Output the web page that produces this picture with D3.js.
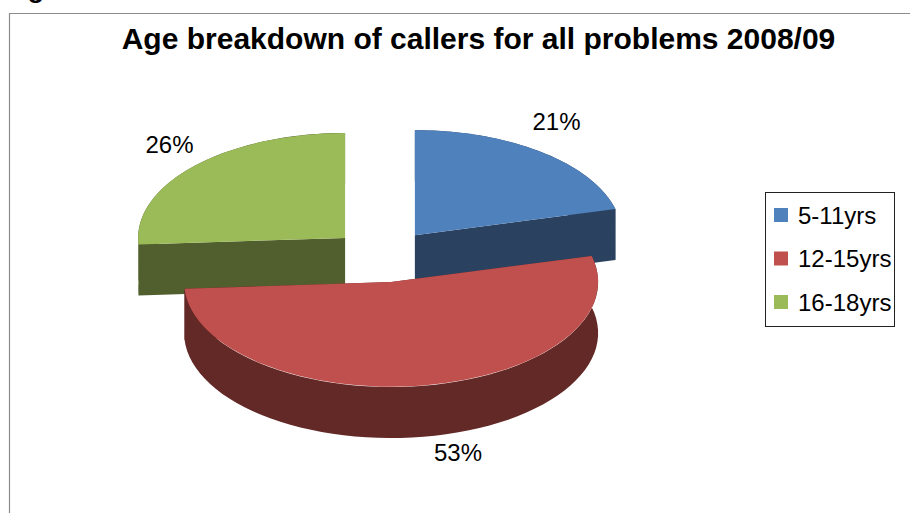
<!DOCTYPE html>
<html><head><meta charset="utf-8">
<script src="https://cdn.jsdelivr.net/npm/d3@7"></script>
<style>html,body{margin:0;padding:0;background:#fff}svg{display:block}text{font-family:"Liberation Sans",Arial,sans-serif;fill:#000}</style>
</head><body><svg id="c" width="910" height="513"></svg>
<script>
const categories = ["5-11yrs","12-15yrs","16-18yrs"];
const values = [21,53,26];
const topColors = ["#4f81bd","#c0504d","#9bbb59"];
const sideColors = ["#2a415f","#632927","#505f2d"];
const titleText = "Age breakdown of callers for all problems 2008/09";

const svg = d3.select("#c");
const W=910,H=513;
const cx=383, cy=256, rx=207, ry=105, depth=51, explode=52;

svg.append("path").attr("d",`M9.5,${H}V13.5H${W}`).attr("fill","none").attr("stroke","#8c8c8c").attr("stroke-width",1.2);
svg.append("text").attr("x",4).attr("y",-2.5).attr("font-size",26.6).attr("font-weight","bold").text("Figure");
svg.append("text").attr("x",478.5).attr("y",49).attr("text-anchor","middle").attr("font-size",30).attr("font-weight","bold").text(titleText);

const pie=d3.pie().sort(null).value(d=>d)(values);
const arcGen=d3.arc().innerRadius(0).outerRadius(1);
const pt=(a,ox,oy,dz=0)=>[ox+rx*Math.sin(a),oy-ry*Math.cos(a)+dz];
const line=d3.line();
const slices=pie.map((p,i)=>{
  const mid=(p.startAngle+p.endAngle)/2;
  return {p,i,mid,ox:cx+explode*Math.sin(mid),oy:cy-explode*(ry/rx)*Math.cos(mid)};
});
// back-to-front: green, blue, red
[2,0,1].forEach(k=>{
  const s=slices[k],{p,ox,oy}=s;
  const g=svg.append("g");
  const faces=[p.startAngle,p.endAngle];
  faces.forEach(a=>{
    const e=pt(a,ox,oy);
    g.append("path").attr("d",line([[ox,oy],e,[e[0],e[1]+depth],[ox,oy+depth]])+"Z").attr("fill",sideColors[k]);
  });
  const angs=d3.range(0,61).map(t=>p.startAngle+(p.endAngle-p.startAngle)*t/60);
  const wall=angs.map(a=>pt(a,ox,oy)).concat(angs.slice().reverse().map(a=>pt(a,ox,oy,depth)));
  g.append("path").attr("d",line(wall)+"Z").attr("fill",sideColors[k]);
  g.append("path").attr("transform",`translate(${ox},${oy}) scale(${rx},${ry})`)
    .attr("d",arcGen(p)).attr("fill",topColors[k]);
});

// data labels
const labelPos=[[556.5,130],[458,461],[169.5,153]];
values.forEach((v,i)=>svg.append("text").attr("x",labelPos[i][0]).attr("y",labelPos[i][1])
  .attr("text-anchor","middle").attr("font-size",24).text(v+"%"));

// legend
svg.append("rect").attr("x",765.5).attr("y",192.5).attr("width",129).attr("height",134).attr("fill","#fff").attr("stroke","#222").attr("stroke-width",1);
const ly=d3.scalePoint().domain(categories).range([215,302]);
categories.forEach((c,i)=>{
  svg.append("rect").attr("x",774).attr("y",ly(c)-7).attr("width",14).attr("height",14).attr("fill",topColors[i]);
  svg.append("text").attr("x",798).attr("y",ly(c)+8.5).attr("font-size",24).text(c);
});
</script></body></html>
